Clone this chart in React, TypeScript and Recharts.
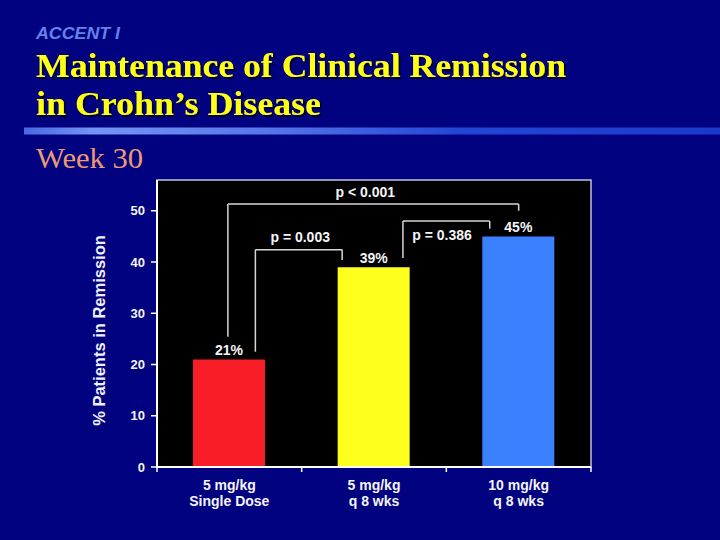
import React from 'react';
import {
  BarChart,
  Bar,
  XAxis,
  YAxis,
  CartesianGrid,
  ReferenceArea,
  ReferenceLine,
  ReferenceDot,
  LabelList,
  Cell,
} from 'recharts';

// dose groups (two lines each) and week-30 remission rates
const doseLabels = [
  ['5 mg/kg', 'Single Dose'],
  ['5 mg/kg', 'q 8 wks'],
  ['10 mg/kg', 'q 8 wks'],
];
const remissionPct = [21, 39, 45];
const barColors = ['#f81d27', '#ffff1d', '#3a80ff'];
const yTicks = [0, 10, 20, 30, 40, 50];
const groupEdges = [0, 1, 2, 3];

// significance brackets, in axis units (x: group slots 0..3, y: %)
const bracketText = ['p < 0.001', 'p = 0.003', 'p = 0.386'];
const bracketLeft = [0.49, 0.68, 1.7];
const bracketRight = [2.5, 1.28, 2.3];
const bracketTop = [51.3, 42.4, 48];
const bracketLeftFoot = [25.4, 22.5, 40.8];
const bracketRightFoot = [50, 40.4, 46.5];
const bracketTextX = [1.44, 0.99, 1.97];
const bracketTextY = [53.7, 44.8, 45.2];

const data = remissionPct.map((value, i) => ({ pos: i + 0.5, value }));
const xTicks = [...groupEdges, ...data.map((d) => d.pos)].sort((a, b) => a - b);

const DoseTick = (props: any) => {
  const { x, y, payload } = props;
  const v = payload.value;
  if (Number.isInteger(v)) {
    return <line x1={x} x2={x} y1={y} y2={y + 5} stroke="#ffffff" strokeWidth={1.5} />;
  }
  const lines = doseLabels[Math.floor(v)];
  return (
    <text x={x} textAnchor="middle" fill="#f4f4f8" fontSize={14} fontWeight="bold">
      <tspan x={x} y={y + 22.6}>{lines[0]}</tspan>
      <tspan x={x} y={y + 39.3}>{lines[1]}</tspan>
    </text>
  );
};

const Header = () => (
  <svg width={720} height={180} style={{ position: 'absolute', left: 0, top: 0 }}>
    <defs>
      <linearGradient id="rule" x1="0" x2="1" y1="0" y2="0">
        <stop offset="0%" stopColor="#4868e4" />
        <stop offset="10%" stopColor="#7494f4" />
        <stop offset="35%" stopColor="#5676ea" />
        <stop offset="62%" stopColor="#2446d6" />
        <stop offset="100%" stopColor="#1a3acc" />
      </linearGradient>
      <filter id="shadow" x="-5%" y="-20%" width="110%" height="140%">
        <feDropShadow dx="2" dy="2" stdDeviation="0.6" floodColor="#00002a" floodOpacity="0.9" />
      </filter>
    </defs>
    <text x={36} y={39} fill="#6282ec" fontSize={17} fontStyle="italic" fontWeight="bold"
      textLength={84} lengthAdjust="spacingAndGlyphs"
      fontFamily="'Liberation Sans', Arial, sans-serif">ACCENT I</text>
    <g filter="url(#shadow)" fill="#ffff14" fontSize={33.5} fontWeight="bold"
      fontFamily="'Liberation Serif', 'Times New Roman', serif">
      <text x={36} y={77} textLength={530} lengthAdjust="spacingAndGlyphs">Maintenance of Clinical Remission</text>
      <text x={36} y={115} textLength={285} lengthAdjust="spacingAndGlyphs">in Crohn’s Disease</text>
    </g>
    <rect x={24} y={127.5} width={696} height={7} fill="url(#rule)" />
    <text x={36} y={167.5} fill="#ec9a72" fontSize={29} textLength={107} lengthAdjust="spacingAndGlyphs"
      fontFamily="'Liberation Serif', 'Times New Roman', serif">Week 30</text>
  </svg>
);

const App = () => {
  return (
    <div style={{ position: 'absolute', left: 0, top: 0, width: 720, height: 540, background: '#01027f', overflow: 'hidden' }}>
      <Header />
      <div style={{ position: 'absolute', left: 0, top: 0, fontFamily: "'Liberation Sans', Arial, sans-serif" }}>
        <BarChart width={720} height={540} data={data} margin={{ top: 180, right: 129, bottom: 23, left: 0 }}>
          <CartesianGrid horizontal={false} vertical={false} fill="#000000" />
          <ReferenceArea x1={0} x2={3} y1={0} y2={56} fill="none" fillOpacity={0} stroke="#c2c2de" strokeWidth={1.5} />
          <XAxis
            type="number"
            dataKey="pos"
            domain={[0, 3]}
            ticks={xTicks}
            interval={0}
            tick={<DoseTick />}
            tickLine={false}
            tickSize={0}
            tickMargin={0}
            height={50}
            axisLine={{ stroke: '#ffffff', strokeWidth: 2 }}
          />
          <YAxis
            type="number"
            domain={[0, 56]}
            ticks={yTicks}
            interval={0}
            width={157}
            tickSize={6}
            tickMargin={6}
            axisLine={{ stroke: '#ffffff', strokeWidth: 2 }}
            tickLine={{ stroke: '#ffffff', strokeWidth: 1.5 }}
            tick={{ fill: '#f4f4f8', fontSize: 13, fontWeight: 'bold' }}
            label={{
              content: (p: any) => {
                const vb = p.viewBox;
                const cx = vb.x + 98.5;
                const cy = vb.y + vb.height / 2 + 7;
                return (
                  <text x={cx} y={cy} transform={`rotate(-90 ${cx} ${cy})`} textAnchor="middle"
                    dominantBaseline="central" fill="#f0f0f6" fontSize={16.5} fontWeight="bold">
                    % Patients in Remission
                  </text>
                );
              },
            }}
          />
          {bracketText.map((t, i) => (
            <React.Fragment key={t}>
              <ReferenceLine
                segment={[{ x: bracketLeft[i], y: bracketLeftFoot[i] }, { x: bracketLeft[i], y: bracketTop[i] }]}
                stroke="#d6d6d6" strokeWidth={1.5} />
              <ReferenceLine
                segment={[{ x: bracketLeft[i], y: bracketTop[i] }, { x: bracketRight[i], y: bracketTop[i] }]}
                stroke="#d6d6d6" strokeWidth={1.5} />
              <ReferenceLine
                segment={[{ x: bracketRight[i], y: bracketTop[i] }, { x: bracketRight[i], y: bracketRightFoot[i] }]}
                stroke="#d6d6d6" strokeWidth={1.5} />
              <ReferenceDot x={bracketTextX[i]} y={bracketTextY[i]} r={0} fill="none" stroke="none"
                label={{ value: t, position: 'center', fill: '#f4f4f8', fontSize: 14, fontWeight: 'bold' }} />
            </React.Fragment>
          ))}
          <Bar dataKey="value" barSize={72} isAnimationActive={false}>
            {data.map((d, i) => (
              <Cell key={`c-${i}`} fill={barColors[i]} />
            ))}
            <LabelList dataKey="value" position="top" offset={4} formatter={(v: any) => `${v}%`}
              fill="#f4f4f8" fontSize={14} fontWeight="bold" />
          </Bar>
        </BarChart>
      </div>
    </div>
  );
};

export default App;
